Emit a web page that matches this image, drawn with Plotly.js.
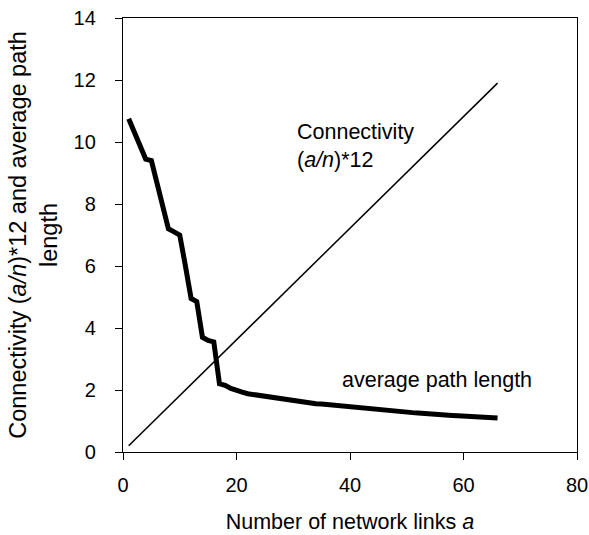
<!DOCTYPE html>
<html>
<head>
<meta charset="utf-8">
<script src="https://cdn.plot.ly/plotly-3.0.1.min.js"></script>
<style>html,body{margin:0;padding:0;background:#fff;}#chart{width:589px;height:535px;}</style>
</head>
<body>
<div id="chart"></div>
<script>
const links = [1,2,3,4,5,6,7,8,9,10,11,12,13,14,15,16,17,18,19,20,21,22,23,24,25,26,27,28,29,30,31,32,33,34,35,36,37,38,39,40,41,42,43,44,45,46,47,48,49,50,51,52,53,54,55,56,57,58,59,60,61,62,63,64,65,66];
const avgPathLength = [10.75,10.3,9.85,9.45,9.4,8.7,7.95,7.2,7.1,7.0,6.0,4.95,4.85,3.7,3.6,3.55,2.2,2.15,2.05,1.97,1.93,1.88,1.85,1.82,1.8,1.77,1.73,1.7,1.68,1.65,1.62,1.6,1.58,1.56,1.55,1.53,1.51,1.5,1.48,1.46,1.44,1.42,1.4,1.38,1.36,1.35,1.33,1.31,1.29,1.28,1.27,1.26,1.24,1.23,1.22,1.21,1.19,1.18,1.17,1.16,1.15,1.14,1.13,1.12,1.11,1.1];
const connLinks = [1, 66];
const connectivity = [0.2, 11.9];
const xTicks = [0,20,40,60,80];
const yTicks = [0,2,4,6,8,10,12,14];

const FONT = 'Liberation Sans, Arial, Helvetica, sans-serif';

const traces = [
  {x: connLinks, y: connectivity, mode: 'lines', line: {color: '#000', width: 1.5}, hoverinfo: 'skip'},
  {x: links, y: avgPathLength, mode: 'lines', line: {color: '#000', width: 5}, hoverinfo: 'skip'}
];

const layout = {
  width: 589, height: 535,
  margin: {l: 123, r: 12, t: 18, b: 83},
  paper_bgcolor: '#fff', plot_bgcolor: '#fff',
  showlegend: false,
  font: {family: FONT, size: 20, color: '#000'},
  xaxis: {
    range: [0, 80], tickvals: xTicks, ticktext: xTicks.map(String),
    showgrid: false, zeroline: false, showline: true, linecolor: '#000', linewidth: 1.2, mirror: true,
    ticks: 'outside', ticklen: 7, tickcolor: '#000', tickwidth: 1,
    ticklabelstandoff: 8,
    title: {text: 'Number of network links <i>a</i>', font: {size: 21.5}, standoff: 18}
  },
  yaxis: {
    range: [0, 14], tickvals: yTicks, ticktext: yTicks.map(String),
    showgrid: false, zeroline: false, showline: true, linecolor: '#000', linewidth: 1.2, mirror: true,
    ticks: 'outside', ticklen: 7, tickcolor: '#000', tickwidth: 1,
    ticklabelstandoff: 15,
    title: {text: 'Connectivity (<i>a/n</i>)*12 and average path<br>length', font: {size: 23.5}, standoff: 9}
  },
  annotations: [
    {x: 30.3, y: 9.87, xref: 'x', yref: 'y', text: 'Connectivity<br>(<i>a/n</i>)*12', showarrow: false,
     xanchor: 'left', yanchor: 'middle', align: 'left', font: {size: 21.5}},
    {x: 38.2, y: 2.31, xref: 'x', yref: 'y', text: 'average path length', showarrow: false,
     xanchor: 'left', yanchor: 'middle', font: {size: 21.5}}
  ]
};

Plotly.newPlot('chart', traces, layout, {displayModeBar: false, staticPlot: true});
</script>
</body>
</html>
